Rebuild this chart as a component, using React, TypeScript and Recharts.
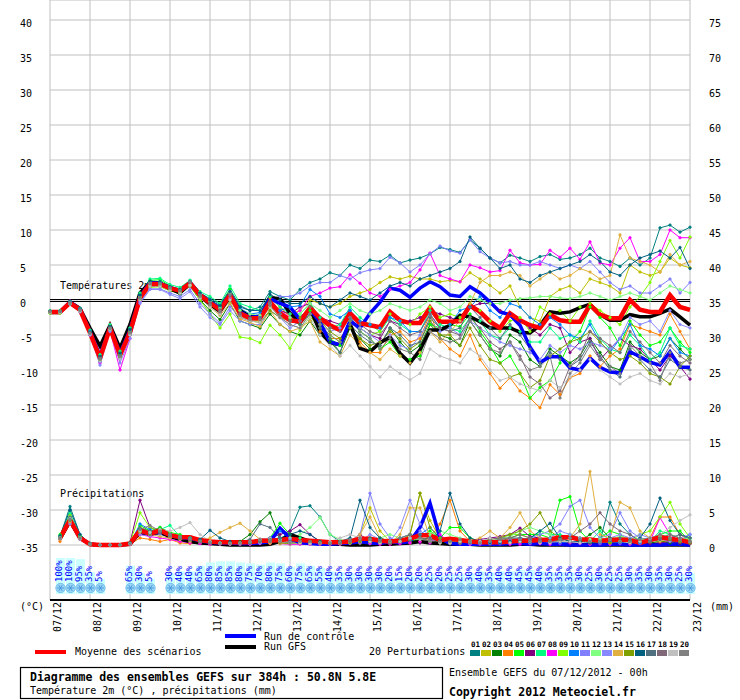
import React from "react";
import { ComposedChart, Line, Bar, XAxis, YAxis, CartesianGrid, ReferenceLine } from "recharts";

const FONT = '"DejaVu Sans Mono", monospace';

// one label per day, every 4 steps of 6h
const dates = ["07/12", "08/12", "09/12", "10/12", "11/12", "12/12", "13/12", "14/12", "15/12", "16/12", "17/12", "18/12", "19/12", "20/12", "21/12", "22/12", "23/12"];
const dayTicks = [0, 4, 8, 12, 16, 20, 24, 28, 32, 36, 40, 44, 48, 52, 56, 60, 64];
const tempTicks = [-35, -30, -25, -20, -15, -10, -5, 0, 5, 10, 15, 20, 25, 30, 35, 40];
const precipTicks = [0, 5, 10, 15, 20, 25, 30, 35, 40, 45, 50, 55, 60, 65, 70, 75];

const memberColors = ["#008080", "#c0c000", "#008000", "#ff8000", "#00ff00", "#800080", "#00ff80", "#ff00ff", "#80ff00", "#0080ff", "#8080ff", "#80ff80", "#8888ff", "#e0b040", "#80a000", "#006080", "#507080", "#806878", "#c0c0c0", "#808080"];

// temperature 2m (°C), 65 steps of 6h
const tempMean = [-1.7, -1.7, -0.4, -1.4, -4.7, -8.3, -4.0, -7.9, -4.6, 0.3, 2.3, 2.3, 1.7, 1.3, 2.4, 0.7, -0.4, -1.4, 0.7, -1.9, -2.6, -2.6, -0.3, -1.9, -2.9, -3.1, -1.1, -2.6, -3.6, -4.3, -1.9, -3.3, -3.6, -3.9, -1.7, -2.9, -3.3, -3.3, -1.1, -3.1, -3.1, -3.0, -0.8, -1.7, -3.1, -4.0, -1.9, -2.9, -3.6, -4.0, -2.1, -2.9, -3.1, -3.1, -0.7, -2.1, -2.6, -2.6, 0.0, -1.4, -1.7, -1.7, 0.7, -1.0, -1.4];
const tempControl = [-1.7, -1.7, -0.3, -1.3, -4.5, -8.0, -3.9, -7.6, -4.3, 0.5, 2.5, 2.4, 1.8, 1.3, 2.5, 0.8, -0.3, -1.2, 0.9, -1.7, -2.5, -2.3, 0.2, -0.5, -1.0, -2.8, -1.3, -3.2, -6.0, -6.4, -3.0, -4.0, -1.9, -0.3, 1.7, 1.4, 0.4, 1.7, 2.6, 1.9, 0.7, 0.5, 1.9, 1.0, -0.3, -1.7, -2.1, -3.6, -6.7, -8.9, -8.1, -8.1, -9.7, -10.0, -8.3, -9.6, -10.3, -10.4, -7.4, -8.1, -8.9, -9.3, -7.4, -9.6, -9.6];
const tempGfs = [-1.8, -1.8, -0.3, -1.2, -4.0, -6.6, -3.6, -6.9, -3.5, 1.0, 2.5, 2.4, 1.6, 1.0, 2.4, 0.6, -0.6, -1.6, 0.5, -1.5, -2.4, -2.4, 0.3, 0.2, -1.9, -3.2, -1.2, -4.5, -6.1, -6.4, -3.4, -6.9, -7.4, -6.1, -5.3, -7.6, -9.0, -7.1, -4.3, -4.3, -3.6, -2.2, -2.4, -3.1, -4.0, -4.0, -4.0, -4.6, -4.7, -3.6, -1.7, -1.9, -1.7, -1.1, -0.6, -2.1, -2.9, -2.9, -2.1, -2.4, -2.4, -1.9, -1.3, -2.4, -3.6];

const tempMembers = [
  // 01
  [-1.6, -1.6, -0.2, -1.2, -4.5, -8.0, -3.8, -7.5, -4.0, 0.8, 2.6, 2.5, 1.9, 1.6, 2.8, 1.0, 0.2, -0.6, 1.5, -0.8, -1.5, -1.0, 1.2, 0.5, 0.0, 1.5, 2.5, 3.0, 3.9, 3.5, 5.0, 4.5, 5.7, 5.5, 6.4, 5.3, 5.7, 6.0, 6.6, 7.5, 7.2, 6.8, 8.6, 7.4, 6.0, 5.3, 6.4, 6.0, 5.5, 6.2, 6.5, 5.8, 6.0, 6.5, 7.4, 6.0, 5.5, 4.8, 6.0, 5.0, 6.0, 10.3, 10.7, 9.7, 10.4],
  // 02
  [-1.8, -1.8, -0.5, -1.5, -4.8, -8.5, -4.2, -8.0, -4.5, 0.2, 2.2, 2.3, 1.8, 1.2, 2.2, 0.4, -0.8, -1.8, 0.3, -2.3, -2.8, -3.0, -1.0, -1.5, -2.0, -1.5, 0.0, -0.5, -1.0, -0.5, 0.5, 1.0, 1.5, 2.5, 3.3, 3.0, 3.4, 3.0, 3.0, 2.6, 2.8, 2.6, 3.9, 3.0, 2.1, 1.0, 2.0, -1.0, -2.5, -3.0, 0.5, 1.5, 2.0, 1.0, 3.0, 2.5, 2.0, 1.0, 5.0, 4.0, 3.5, 4.0, 6.0, 5.0, 4.6],
  // 03
  [-1.7, -1.7, -0.5, -1.6, -5.0, -8.8, -4.3, -8.3, -5.0, 0.0, 2.0, 2.0, 1.5, 0.8, 2.0, 0.0, -1.5, -2.8, -0.5, -3.0, -3.5, -4.0, -2.0, -3.5, -4.5, -5.0, -3.0, -5.0, -6.0, -7.5, -4.0, -5.5, -7.0, -6.5, -4.0, -6.0, -7.5, -6.5, -3.5, -5.0, -5.5, -6.5, -3.0, -5.0, -7.0, -8.0, -5.0, -6.0, -8.5, -9.5, -7.0, -8.0, -9.0, -8.0, -5.5, -7.5, -9.5, -10.0, -6.0, -7.5, -8.5, -8.0, -5.5, -7.0, -8.5],
  // 04
  [-1.6, -1.6, -0.3, -1.3, -4.6, -8.2, -3.9, -7.8, -4.3, 0.5, 2.3, 2.4, 1.7, 1.3, 2.3, 0.6, -0.6, -1.6, 0.4, -2.5, -2.5, -2.4, 0.3, -1.0, -2.5, -3.5, -2.0, -4.5, -5.5, -5.5, -3.5, -6.0, -7.5, -7.5, -5.0, -4.5, -6.0, -5.5, -2.0, -5.5, -7.0, -8.0, -5.0, -8.5, -10.5, -12.6, -11.1, -13.0, -14.0, -15.4, -12.1, -13.5, -11.1, -10.5, -8.0, -9.5, -8.0, -7.0, -3.5, -4.0, -4.5, -5.0, -2.0, -4.5, -7.0],
  // 05
  [-1.8, -1.8, -0.4, -1.4, -4.6, -8.3, -4.0, -7.8, -4.5, 0.3, 2.8, 2.9, 2.0, 1.4, 2.5, 0.8, -0.2, -1.0, 1.5, -1.5, -2.5, -2.8, -0.5, -1.5, -2.8, -3.5, -1.5, -3.5, -5.5, -6.5, -2.5, -4.5, -5.5, -7.0, -6.0, -8.0, -8.5, -8.0, -3.5, -4.0, -3.5, -3.8, -2.0, -4.5, -6.5, -9.0, -8.0, -10.5, -14.0, -12.5, -11.5, -9.0, -6.0, -4.5, -1.0, -2.5, -4.0, -6.5, -3.0, -5.0, -6.5, -6.0, -4.0, -6.0, -7.5],
  // 06
  [-1.7, -1.7, -0.1, -1.3, -4.8, -8.5, -4.1, -8.0, -4.8, 0.1, 2.4, 2.3, 1.6, 1.2, 2.4, 0.7, -0.4, -1.4, 0.9, -1.8, -2.4, -2.5, -0.5, -1.5, -2.0, -1.0, -0.5, -2.5, -3.0, -3.5, -1.5, -4.0, -5.0, -5.5, -3.0, -3.5, -3.0, -2.5, -1.5, -2.0, -2.5, -3.0, -1.0, -0.5, -0.5, -1.5, -2.0, -3.0, -4.0, -5.0, -3.5, -4.0, -7.5, -6.0, -5.5, -8.5, -7.0, -5.5, -6.5, -7.0, -8.5, -10.0, -8.0, -9.5, -11.3],
  // 07
  [-1.5, -1.5, -0.2, -1.2, -4.3, -7.8, -3.5, -7.3, -4.0, 1.0, 3.0, 3.1, 2.2, 1.8, 2.8, 1.2, 0.5, -0.5, 2.0, -0.5, -1.0, -1.5, 0.5, -1.0, -2.0, -2.0, -0.5, -2.5, -4.0, -3.5, -1.0, -2.5, -3.5, -4.5, -2.5, -3.5, -4.5, -4.5, -1.5, -3.5, -4.0, -4.5, -2.5, -3.0, -5.0, -5.5, -4.0, -4.5, -6.0, -6.0, -4.0, -5.5, -5.0, -6.0, -3.0, -5.5, -7.0, -7.5, -5.0, -6.5, -8.5, -7.5, -4.0, -6.5, -7.0],
  // 08
  [-1.7, -1.7, -0.5, -1.5, -5.0, -9.0, -4.3, -10.0, -5.5, -0.2, 2.0, 2.0, 1.5, 1.0, 2.0, 0.3, -0.8, -1.8, 0.2, -2.2, -2.8, -2.8, -0.5, -1.5, -2.5, -1.5, 0.5, 1.0, 1.7, 1.9, 3.6, 2.4, 1.0, 0.5, 1.5, 2.0, 2.5, 4.3, 6.7, 3.5, 3.0, 2.6, 5.0, 4.6, 4.0, 4.2, 7.1, 5.3, 5.0, 5.1, 7.1, 6.1, 7.4, 5.8, 8.3, 5.3, 5.0, 7.4, 8.9, 5.5, 5.5, 6.5, 10.0, 8.9, 8.9],
  // 09
  [-1.9, -1.9, -0.6, -1.6, -4.9, -8.6, -4.3, -8.2, -4.8, 0.0, 1.8, 1.9, 1.3, 1.0, 2.0, 0.0, -2.0, -4.0, -2.0, -5.3, -5.5, -6.1, -3.6, -5.0, -6.9, -4.3, -2.4, -4.0, -5.0, -6.0, -3.0, -4.0, -5.0, -4.5, -2.0, -3.0, -3.5, -2.0, -1.0, -2.5, -2.0, -2.5, -0.5, -1.5, -3.0, -4.5, -3.0, -2.5, -4.5, -1.0, -2.0, -1.5, -3.0, -1.0, -0.5, -1.5, -2.5, -3.5, -1.0, 0.5, 2.5, 5.5, 8.5, 6.0, 9.0],
  // 10
  [-1.6, -1.6, -0.3, -1.3, -4.5, -8.1, -3.9, -7.7, -4.3, 0.6, 2.5, 2.6, 1.9, 1.5, 2.6, 0.9, 0.0, -1.0, 1.2, -1.2, -2.0, -1.8, -0.5, -1.5, -1.0, -0.8, 1.5, 0.5, -2.0, -2.5, -1.5, -3.0, -3.5, -4.0, -2.5, -3.0, -4.5, -4.5, -2.0, -4.0, -3.5, -1.5, -1.0, 0.5, -1.5, -2.5, -0.5, -1.0, -2.5, -3.5, -2.5, -3.5, -5.0, -5.5, -3.5, -6.0, -7.5, -5.5, -3.5, -6.5, -7.0, -8.0, -5.5, -7.5, -8.0],
  // 11
  [-1.8, -1.8, -0.4, -1.6, -4.9, -8.8, -4.2, -8.4, -5.0, -0.3, 1.6, 1.6, 1.0, 0.5, 1.5, -0.5, -2.0, -3.3, -1.0, -2.5, -3.0, -2.5, -0.5, 0.5, 0.5, 1.0, 2.0, 2.5, 2.5, 3.5, 3.0, 3.9, 4.3, 4.5, 6.1, 5.3, 4.0, 5.0, 6.6, 7.7, 7.0, 6.7, 8.6, 6.9, 6.0, 5.3, 5.5, 5.0, 5.0, 5.5, 5.0, 4.5, 5.0, 4.5, 5.5, 4.0, 2.5, 1.5, 2.0, 1.0, 1.0, 2.0, 3.0, 1.0, 2.5],
  // 12
  [-1.7, -1.7, -0.4, -1.4, -4.7, -8.3, -4.0, -7.9, -4.6, 0.4, 2.5, 2.4, 1.8, 1.5, 2.6, 0.8, -0.2, -1.2, 1.0, -1.5, -2.0, -2.2, -0.5, -2.0, -2.5, -2.0, -0.5, -1.5, -2.5, -1.5, -0.5, -1.5, -2.0, -1.5, -0.5, -1.0, -1.5, -1.0, 0.0, -0.5, -1.5, -1.0, 0.5, 0.0, -0.5, -0.5, 0.0, 0.2, 0.3, 0.5, 0.5, 0.3, 0.2, 0.5, 1.0, 0.5, 0.0, 0.5, 1.0, 0.5, 0.0, 1.0, 2.0, 1.5, 1.0],
  // 13
  [-1.7, -1.7, -0.6, -1.7, -5.0, -9.3, -4.5, -9.0, -5.5, -0.5, 1.5, 1.5, 0.8, 0.2, 1.2, -1.0, -2.5, -3.5, -1.5, -3.0, -3.5, -3.5, -1.5, -2.5, -4.0, -3.0, -2.0, -3.5, -4.5, -4.0, -2.5, -4.0, -5.0, -6.0, -5.0, -6.5, -7.0, -5.0, -3.0, -4.5, -4.0, -5.0, -3.0, -4.0, -5.0, -6.0, -6.5, -7.0, -7.5, -8.5, -6.5, -7.5, -6.5, -7.0, -6.0, -6.5, -7.0, -5.5, -2.5, -3.5, -3.0, -4.5, -1.5, -3.5, -4.0],
  // 14
  [-1.6, -1.6, -0.4, -1.5, -4.8, -8.4, -4.1, -8.1, -4.7, 0.2, 2.2, 2.2, 1.6, 1.1, 2.2, 0.3, -1.0, -2.2, -0.5, -2.7, -3.2, -3.8, -1.5, -3.5, -4.5, -4.0, -3.0, -6.0, -7.0, -8.0, -5.0, -6.5, -7.5, -8.5, -7.0, -8.0, -9.0, -7.5, -4.5, -6.0, -4.5, -3.0, -0.5, 2.5, 3.5, 3.5, 4.0, 3.5, 2.0, 3.0, 4.0, 3.0, 3.5, 4.5, 4.0, 3.0, 3.5, 9.3, 6.0, 5.5, 5.0, 4.0, 6.5, 5.0, 5.5],
  // 15
  [-1.8, -1.8, -0.5, -1.5, -4.7, -8.3, -4.0, -7.9, -4.6, 0.2, 2.1, 2.1, 1.5, 1.1, 2.1, 0.4, -0.8, -2.0, 0.0, -2.4, -3.0, -3.2, -1.5, -2.5, -3.0, -2.5, -1.0, -3.0, -4.5, -5.5, -4.0, -5.5, -6.5, -6.0, -4.5, -5.5, -7.0, -6.0, -3.0, -5.0, -5.0, -6.5, -4.0, -6.5, -8.5, -9.0, -11.0, -10.5, -12.5, -11.5, -8.0, -7.0, -6.0, -5.5, -4.5, -6.0, -7.5, -8.5, -8.0, -9.0, -10.5, -11.0, -12.0, -9.5, -8.0],
  // 16
  [-1.6, -1.6, -0.3, -1.3, -4.6, -8.1, -3.8, -7.6, -4.2, 0.7, 2.7, 2.6, 1.9, 1.5, 2.6, 1.0, 0.0, -0.8, 1.2, -1.0, -1.5, -1.5, 0.8, 0.0, -0.5, -0.5, 0.5, -0.5, -1.0, 0.0, 1.0, 0.5, 0.0, 1.0, 2.0, 2.5, 2.0, 3.0, 3.5, 4.0, 4.5, 5.5, 9.0, 7.4, 6.0, 4.5, 5.0, 3.0, 2.5, 3.5, 4.0, 4.5, 5.0, 5.5, 6.5, 5.5, 4.0, 3.5, 5.0, 6.0, 6.5, 7.0, 6.0, 7.5, 4.5],
  // 17
  [-1.7, -1.7, -0.4, -1.4, -4.7, -8.4, -4.0, -8.0, -4.7, 0.2, 2.3, 2.4, 1.8, 1.4, 2.6, 0.6, -0.6, -1.5, 0.6, -2.0, -2.8, -2.5, -0.2, -2.0, -3.0, -3.5, -2.0, -4.0, -5.5, -7.5, -3.5, -5.0, -6.0, -6.5, -4.0, -5.0, -6.5, -6.0, -2.5, -4.0, -4.5, -4.0, -1.0, -2.5, -4.0, -5.5, -3.5, -5.0, -7.0, -9.0, -7.5, -8.5, -9.5, -8.5, -6.0, -8.0, -10.0, -11.0, -7.0, -8.5, -10.0, -11.0, -8.5, -9.5, -10.0],
  // 18
  [-1.7, -1.7, -0.4, -1.4, -4.7, -8.3, -4.0, -8.0, -4.6, 0.3, 2.4, 2.3, 1.7, 1.3, 2.5, 0.7, -0.4, -1.4, 0.7, -1.9, -2.6, -2.7, -0.5, -2.0, -3.0, -3.0, -1.0, -3.0, -4.0, -4.5, -2.5, -3.5, -4.5, -5.0, -3.0, -4.0, -5.0, -4.5, -2.0, -4.0, -4.5, -5.0, -2.5, -4.0, -6.0, -7.0, -6.0, -8.0, -11.0, -12.0, -14.0, -13.0, -9.5, -8.0, -4.5, -5.5, -6.5, -7.5, -4.5, -6.0, -7.5, -9.0, -6.5, -8.0, -9.0],
  // 19
  [-1.8, -1.8, -0.5, -1.6, -4.9, -8.7, -4.2, -8.4, -5.0, 0.0, 2.0, 2.0, 1.4, 1.0, 2.1, 0.3, -1.0, -2.0, 0.0, -2.4, -3.0, -3.2, -1.0, -2.5, -3.5, -4.0, -2.5, -5.0, -6.5, -8.0, -6.5, -8.0, -9.5, -11.0, -9.5, -10.5, -11.4, -10.5, -7.0, -8.0, -8.5, -9.0, -7.0, -8.0, -10.0, -11.5, -11.0, -12.0, -12.5, -13.0, -11.5, -12.5, -11.0, -10.0, -8.5, -10.0, -11.0, -12.0, -11.0, -10.5, -11.5, -12.0, -10.5, -11.0, -10.5],
  // 20
  [-1.7, -1.7, -0.5, -1.5, -4.8, -8.5, -4.1, -8.1, -4.7, 0.2, 2.3, 2.3, 1.7, 1.3, 2.6, 0.5, -0.7, -1.7, 0.8, -2.2, -2.8, -2.8, -0.8, -2.5, -3.5, -4.0, -2.0, -3.5, -5.0, -6.0, -3.0, -4.5, -5.5, -7.0, -5.5, -7.0, -7.5, -8.5, -4.5, -5.5, -6.0, -5.5, -3.0, -5.0, -7.0, -7.5, -6.0, -8.5, -10.0, -9.5, -8.0, -14.0, -10.5, -9.0, -6.5, -8.5, -9.5, -10.5, -6.5, -8.0, -9.0, -11.5, -7.5, -9.0, -8.5],
];

// precipitation (mm per 6h), first step has no value
const precipMean = [null, 1.0, 3.6, 1.0, 0.1, 0, 0, 0, 0.2, 2.1, 1.6, 2.1, 1.4, 1.1, 1.1, 0.7, 0.5, 0.4, 0.4, 0.4, 0.4, 0.6, 0.6, 0.7, 0.9, 0.7, 0.6, 0.5, 0.4, 0.4, 0.5, 0.9, 0.9, 0.6, 0.5, 0.6, 0.9, 1.4, 1.4, 0.7, 0.9, 0.7, 0.5, 0.4, 0.4, 0.4, 0.5, 0.6, 0.6, 0.7, 0.8, 1.1, 1.1, 0.8, 0.8, 0.6, 0.7, 0.8, 0.7, 0.3, 0.7, 1.1, 0.9, 0.7, 0.4];
const precipControl = [null, 1.0, 3.5, 1.0, 0.1, 0, 0, 0, 0.2, 2.0, 1.5, 2.0, 1.4, 1.0, 1.0, 0.6, 0.4, 0.3, 0.3, 0.2, 0.2, 0.3, 0.5, 2.4, 1.0, 0.3, 0.2, 0.1, 0.1, 0.2, 0.3, 0.5, 0.3, 0.2, 0.5, 0.3, 0.5, 2.5, 6.0, 1.0, 0.2, 0.1, 0.1, 0.1, 0.1, 0.1, 0.2, 0.2, 0.1, 0.2, 0.1, 0.1, 0, 0, 0, 0, 0.1, 0.1, 0, 0, 0, 0, 0.1, 0.1, 0];
const precipGfs = [null, 0.9, 3.4, 1.0, 0.1, 0, 0, 0, 0.1, 1.8, 1.6, 1.8, 1.2, 0.8, 0.5, 0.3, 0.2, 0.1, 0, 0, 0, 0, 0.1, 0.5, 1.5, 1.0, 0.5, 0.2, 0.1, 0.1, 0, 0, 0, 0.1, 0.1, 0.2, 0.3, 0.5, 0.3, 0.2, 0.1, 0.1, 0.1, 0, 0, 0, 0, 0.1, 0.1, 0, 0, 0, 0, 0, 0, 0, 0, 0, 0, 0, 0, 0, 0, 0, 0];

const precipMembers = [
  [null, 1.2, 5.5, 1.5, 0.2, 0, 0, 0, 0.3, 2.0, 1.5, 2.5, 1.5, 1.0, 1.0, 0.8, 0.5, 0.3, 0.2, 0.1, 0.2, 0.3, 0.5, 0.8, 2.0, 5.4, 5.6, 4.0, 1.5, 0.5, 0.3, 0.5, 1.0, 0.8, 0.5, 0.3, 0.5, 0.8, 1.0, 0.5, 0.3, 0.2, 0.5, 0.3, 0.2, 0.2, 0.3, 0.5, 0.5, 1.0, 0.5, 0.5, 1.5, 1.0, 0.5, 0.5, 6.1, 3.0, 1.5, 0.5, 0.5, 1.0, 0.5, 0.5, 0.3],
  [null, 0.8, 4.0, 1.0, 0.1, 0, 0, 0, 0.2, 2.5, 2.0, 2.0, 1.2, 1.0, 0.8, 0.5, 0.3, 0.2, 0.2, 0.2, 0.3, 0.5, 0.8, 0.5, 0.3, 0.5, 0.3, 0.2, 0.2, 0.3, 0.5, 1.5, 5.3, 2.0, 0.5, 0.5, 1.5, 7.4, 3.5, 1.0, 0.5, 0.3, 0.2, 0.2, 0.3, 0.3, 0.5, 0.8, 1.0, 0.5, 0.3, 0.5, 0.5, 0.3, 0.2, 0.2, 0.3, 0.5, 0.5, 0.3, 0.3, 0.5, 0.5, 0.3, 0.2],
  [null, 1.0, 3.5, 1.0, 0.1, 0, 0, 0, 0.2, 1.8, 1.5, 1.8, 1.2, 0.8, 0.6, 0.4, 0.3, 0.2, 0.3, 0.5, 1.5, 3.3, 4.6, 1.0, 0.5, 0.3, 0.2, 0.2, 0.3, 0.5, 0.3, 0.2, 0.5, 0.3, 0.2, 0.3, 0.5, 0.8, 1.0, 0.5, 0.3, 0.5, 0.3, 0.2, 0.2, 0.3, 0.5, 0.5, 0.3, 0.5, 1.0, 0.5, 0.3, 0.5, 1.5, 2.5, 1.0, 0.5, 0.3, 0.2, 0.3, 0.5, 0.3, 0.3, 0.2],
  [null, 0.5, 3.0, 0.8, 0.1, 0, 0, 0, 0.1, 1.0, 0.8, 0.5, 0.8, 0.3, 0.2, 0.3, 0.2, 0.2, 0.1, 0.1, 0.2, 0.3, 0.2, 0.3, 0.5, 0.3, 0.2, 0.2, 0.1, 0.2, 0.3, 0.5, 0.3, 0.2, 0.3, 0.5, 0.3, 0.5, 1.0, 3.0, 6.4, 2.0, 0.5, 0.3, 0.2, 0.3, 0.5, 0.3, 0.2, 0.3, 0.5, 1.0, 0.5, 0.3, 0.5, 0.3, 0.5, 0.5, 0.3, 0.5, 1.0, 4.0, 4.0, 1.5, 0.5],
  [null, 1.5, 4.0, 1.2, 0.2, 0, 0, 0, 0.3, 2.8, 2.0, 2.5, 1.8, 1.5, 1.0, 0.5, 0.3, 0.2, 0.3, 0.3, 0.2, 0.5, 1.0, 3.1, 1.5, 0.5, 0.3, 0.2, 0.2, 0.3, 0.5, 0.3, 0.5, 1.0, 0.5, 0.3, 0.5, 1.0, 2.0, 1.0, 2.5, 2.5, 1.0, 0.5, 0.3, 0.5, 1.0, 1.5, 1.5, 1.5, 1.0, 6.4, 6.9, 2.0, 0.5, 1.0, 2.0, 1.5, 0.5, 0.3, 0.5, 1.5, 2.0, 2.0, 0.5],
  [null, 1.0, 3.5, 1.0, 0.1, 0, 0, 0, 0.3, 6.4, 2.5, 2.0, 1.5, 1.0, 0.8, 0.5, 0.3, 0.2, 0.2, 0.3, 0.5, 0.8, 1.0, 1.5, 2.0, 2.9, 1.5, 0.5, 0.3, 0.3, 0.5, 1.5, 0.5, 0.3, 0.2, 0.3, 0.5, 0.3, 0.5, 0.3, 0.2, 0.3, 0.5, 0.8, 1.0, 1.2, 1.5, 2.4, 1.2, 1.0, 0.5, 0.3, 0.5, 0.3, 0.2, 0.3, 0.5, 0.3, 0.5, 0.3, 0.2, 0.3, 0.5, 0.3, 0.2],
  [null, 1.3, 4.5, 1.3, 0.2, 0, 0, 0, 0.2, 2.2, 1.8, 2.2, 2.8, 1.2, 1.0, 0.6, 0.4, 0.3, 0.2, 0.2, 0.3, 0.5, 0.8, 1.0, 0.5, 1.0, 0.5, 0.3, 0.2, 0.3, 0.5, 0.3, 0.2, 0.5, 0.3, 0.5, 0.8, 1.5, 1.0, 0.5, 0.3, 0.5, 0.5, 0.3, 0.3, 0.5, 0.5, 1.0, 0.8, 2.0, 1.5, 1.5, 1.0, 0.5, 0.5, 2.0, 0.5, 0.3, 0.5, 0.3, 0.5, 2.0, 1.5, 1.0, 0.5],
  [null, 0.8, 3.2, 0.9, 0.1, 0, 0, 0, 0.1, 1.5, 1.2, 1.0, 0.8, 0.5, 0.3, 0.2, 0.1, 0.1, 0.1, 0.1, 0.1, 0.2, 0.3, 0.2, 0.1, 0.1, 0.1, 0.1, 0.1, 0.1, 0.2, 0.3, 0.2, 0.1, 0.1, 0.2, 0.3, 0.5, 0.3, 1.5, 0.3, 0.2, 0.1, 0.1, 0.2, 0.2, 0.1, 0.1, 0.2, 0.2, 0.1, 0.2, 0.3, 0.2, 0.1, 0.2, 0.1, 0.2, 0.1, 0.2, 0.5, 3.9, 1.5, 0.5, 0.3],
  [null, 1.2, 4.2, 1.2, 0.1, 0, 0, 0, 0.3, 4.6, 2.5, 2.0, 1.5, 1.2, 0.8, 0.5, 0.3, 0.2, 0.2, 0.3, 0.3, 0.5, 0.8, 0.5, 0.3, 0.5, 0.3, 0.5, 0.3, 0.2, 0.3, 0.5, 0.5, 0.3, 0.3, 0.5, 0.8, 1.0, 0.5, 0.3, 0.2, 0.3, 0.5, 0.3, 0.5, 1.0, 1.5, 1.5, 1.0, 0.5, 0.5, 1.0, 1.5, 1.0, 0.5, 0.5, 0.3, 0.5, 0.5, 1.5, 2.0, 4.0, 6.1, 3.0, 1.0],
  [null, 0.9, 3.8, 1.0, 0.1, 0, 0, 0, 0.2, 3.0, 2.2, 1.8, 1.3, 1.0, 0.8, 0.5, 0.3, 0.2, 0.2, 0.2, 0.3, 0.5, 1.0, 2.0, 1.0, 0.5, 0.3, 0.3, 0.2, 0.3, 0.3, 0.5, 0.8, 0.5, 0.3, 0.5, 0.8, 1.5, 2.5, 1.0, 0.5, 0.3, 0.3, 0.2, 0.3, 0.3, 0.5, 0.5, 0.3, 0.5, 0.5, 0.3, 0.5, 0.3, 0.5, 0.3, 0.5, 0.3, 0.5, 0.3, 0.5, 1.0, 0.8, 0.5, 1.5],
  [null, 1.0, 3.0, 0.8, 0.1, 0, 0, 0, 0.2, 1.5, 1.3, 1.5, 1.2, 1.0, 0.8, 0.5, 0.3, 0.3, 0.2, 0.2, 0.3, 0.3, 0.5, 0.8, 0.5, 0.3, 0.3, 0.2, 0.2, 0.3, 0.5, 1.5, 7.4, 3.0, 1.0, 0.5, 1.0, 2.0, 1.0, 0.5, 0.3, 0.3, 0.5, 0.3, 0.2, 0.3, 0.5, 0.8, 1.0, 1.5, 2.0, 3.0, 5.5, 6.4, 2.5, 1.0, 1.5, 4.6, 2.0, 1.0, 0.8, 1.5, 1.0, 0.5, 0.5],
  [null, 1.1, 3.6, 1.0, 0.2, 0, 0, 0, 0.2, 2.0, 1.8, 1.8, 1.5, 1.2, 1.0, 0.6, 0.5, 0.3, 0.3, 0.3, 0.3, 0.5, 0.5, 0.8, 1.0, 1.5, 2.5, 3.9, 1.5, 0.8, 0.5, 0.5, 0.8, 1.0, 1.5, 1.0, 0.8, 1.0, 1.5, 2.0, 1.5, 1.0, 0.5, 0.5, 0.8, 1.0, 1.2, 2.0, 2.5, 2.0, 1.5, 1.0, 1.5, 1.0, 0.8, 0.8, 1.0, 1.2, 1.0, 0.8, 1.0, 1.2, 1.5, 1.0, 0.8],
  [null, 1.0, 3.4, 1.0, 0.1, 0, 0, 0, 0.2, 2.2, 1.5, 1.8, 1.2, 1.0, 0.8, 0.5, 0.3, 0.2, 0.2, 0.2, 0.2, 0.3, 0.5, 1.0, 0.8, 0.5, 0.3, 0.3, 0.2, 0.2, 0.3, 0.5, 1.5, 0.8, 0.5, 2.5, 6.4, 3.0, 1.0, 0.5, 0.5, 0.3, 0.2, 0.3, 0.5, 0.5, 0.8, 1.0, 0.8, 0.5, 1.0, 2.0, 1.5, 1.0, 0.5, 0.5, 1.0, 1.5, 1.0, 1.5, 1.0, 0.8, 0.5, 1.0, 1.5],
  [null, 0.8, 3.3, 0.9, 0.1, 0, 0, 0, 0.2, 1.8, 1.5, 1.2, 1.0, 0.8, 0.5, 0.5, 1.0, 1.8, 2.5, 3.1, 2.0, 0.8, 0.3, 0.2, 0.2, 0.3, 0.2, 0.2, 0.3, 0.2, 0.3, 1.5, 4.0, 1.0, 0.3, 1.5, 5.3, 5.3, 1.0, 0.5, 0.3, 0.5, 0.5, 1.0, 2.0, 1.0, 2.5, 4.6, 2.0, 1.0, 0.5, 0.8, 1.0, 3.0, 10.5, 1.5, 1.0, 6.1, 5.3, 2.0, 1.0, 0.5, 1.0, 0.8, 0.5],
  [null, 1.0, 3.5, 1.0, 0.1, 0, 0, 0, 0.2, 2.0, 1.5, 1.8, 1.3, 1.0, 0.8, 0.5, 0.3, 0.2, 0.2, 0.2, 0.3, 0.5, 0.5, 0.3, 0.2, 0.3, 0.5, 0.3, 0.2, 0.3, 0.3, 0.5, 0.8, 0.5, 0.3, 0.5, 1.5, 7.4, 2.5, 1.0, 0.5, 0.3, 0.5, 0.5, 0.8, 1.0, 1.5, 2.0, 3.0, 4.6, 2.0, 1.0, 0.5, 0.5, 0.3, 0.5, 0.3, 0.5, 0.3, 0.5, 0.5, 1.0, 0.8, 0.5, 0.3],
  [null, 1.3, 5.0, 1.5, 0.2, 0, 0, 0, 0.3, 2.3, 1.8, 1.8, 1.5, 1.2, 1.0, 0.8, 2.1, 1.0, 0.5, 0.3, 0.3, 0.5, 0.8, 1.0, 1.5, 2.0, 1.5, 0.5, 0.3, 0.5, 1.0, 6.4, 2.5, 1.0, 0.5, 1.0, 1.5, 1.0, 0.5, 2.0, 7.4, 3.0, 1.0, 0.5, 0.3, 0.3, 0.5, 0.5, 1.0, 2.0, 3.1, 1.0, 0.5, 0.5, 0.3, 0.5, 1.0, 0.5, 0.3, 1.0, 3.0, 6.7, 3.5, 1.5, 1.0],
  [null, 1.1, 4.0, 1.1, 0.1, 0, 0, 0, 0.2, 2.4, 2.0, 2.0, 1.5, 1.0, 0.8, 0.5, 0.4, 0.3, 0.3, 0.4, 0.8, 3.0, 2.5, 1.0, 0.5, 0.5, 0.3, 0.3, 0.2, 0.3, 0.5, 1.0, 0.8, 0.5, 0.3, 0.5, 1.0, 1.5, 1.0, 0.5, 0.5, 0.3, 0.3, 0.5, 0.5, 0.8, 1.0, 1.0, 0.8, 0.5, 0.5, 0.8, 1.0, 0.8, 0.5, 0.5, 0.8, 1.0, 0.8, 0.5, 0.5, 0.8, 1.0, 1.5, 1.0],
  [null, 0.9, 3.6, 1.0, 0.1, 0, 0, 0, 0.2, 2.0, 1.6, 1.8, 1.3, 1.0, 0.7, 0.5, 0.3, 0.3, 0.2, 0.2, 0.3, 0.5, 0.5, 0.5, 0.3, 0.5, 0.3, 0.2, 0.3, 0.3, 0.5, 0.8, 0.5, 0.3, 0.3, 0.5, 0.8, 1.0, 0.8, 0.5, 0.3, 0.3, 0.5, 0.5, 0.8, 1.0, 1.0, 1.5, 1.0, 0.8, 0.5, 0.5, 1.0, 2.0, 3.0, 4.6, 3.0, 2.0, 1.5, 0.5, 0.5, 1.0, 1.5, 1.0, 0.5],
  [null, 1.0, 3.8, 1.0, 0.1, 0, 0, 0, 0.2, 2.0, 1.8, 2.2, 2.0, 2.5, 3.2, 1.5, 0.5, 0.3, 0.2, 0.3, 0.5, 0.8, 1.0, 0.5, 0.3, 0.3, 0.2, 0.3, 0.5, 1.0, 1.5, 1.0, 0.5, 0.3, 0.5, 0.5, 1.0, 0.8, 0.5, 0.3, 0.3, 0.5, 0.5, 0.5, 1.0, 0.5, 0.3, 0.5, 0.5, 0.3, 0.3, 0.5, 0.5, 0.3, 0.5, 0.5, 0.8, 0.5, 0.3, 0.5, 1.0, 1.5, 2.5, 3.5, 4.3],
  [null, 1.0, 3.7, 1.0, 0.1, 0, 0, 0, 0.2, 2.2, 2.8, 2.0, 1.5, 1.2, 0.9, 0.6, 0.4, 0.3, 0.2, 0.3, 0.5, 0.8, 0.8, 0.5, 0.3, 0.5, 0.5, 0.3, 0.3, 0.5, 0.8, 1.0, 0.8, 0.5, 0.5, 1.0, 1.5, 1.0, 0.5, 0.5, 0.5, 0.8, 0.5, 0.3, 0.5, 0.8, 1.0, 0.8, 0.5, 0.5, 0.5, 0.8, 1.0, 0.8, 0.5, 0.5, 0.8, 0.5, 0.5, 0.8, 1.0, 1.5, 1.0, 0.8, 0.5],
];

// probability of snow (%) for each 6h step
const snowPct = [null, 100, 100, 95, 35, 5, 0, 0, 65, 30, 5, 0, 30, 40, 40, 65, 80, 85, 85, 80, 75, 70, 80, 75, 60, 75, 65, 55, 40, 35, 30, 30, 30, 30, 20, 15, 20, 20, 25, 20, 25, 25, 30, 40, 35, 40, 40, 45, 45, 40, 35, 35, 35, 30, 25, 30, 25, 25, 30, 35, 30, 35, 30, 25, 30];

const rows = tempMean.map((_, i) => {
  const row: Record<string, number | null> = {
    i,
    tMean: tempMean[i],
    tCtl: tempControl[i],
    tGfs: tempGfs[i],
    pMean: precipMean[i],
    pCtl: precipControl[i],
    pGfs: precipGfs[i],
    pct: snowPct[i],
  };
  tempMembers.forEach((s, m) => (row[`t${m}`] = s[i]));
  precipMembers.forEach((s, m) => (row[`p${m}`] = s[i]));
  return row;
});

const LeftTick = (props: any) => (
  <text x={20} y={props.y + 7} fontSize={10} fontFamily={FONT} fill="#000">
    {props.payload.value}
  </text>
);

const RightTick = (props: any) => (
  <text x={709} y={props.y + 7} fontSize={10} fontFamily={FONT} fill="#000">
    {props.payload.value}
  </text>
);

const DateTick = (props: any) => {
  const ax = props.x + 11;
  return (
    <text x={ax} y={602} transform={`rotate(-90 ${ax} 602)`} textAnchor="end" fontSize={10} fontFamily={FONT} fill="#000">
      {dates[props.payload.value / 4]}
    </text>
  );
};

// cyan probability bar, snowflake and the percentage written upwards
const SnowShape = (props: any) => {
  const { x, y, width, height, payload } = props;
  if (!payload || !(payload.pct > 0)) return <g />;
  const cx = x + width / 2;
  const base = y + height;
  const cy = base + 8;
  return (
    <g>
      <rect x={x} y={y} width={width} height={height + 14} fill="#ccffff" />
      <circle cx={cx} cy={cy} r={4.7} fill="#9ad6f6" stroke="#66b8e8" strokeWidth={0.8} />
      <path d={`M${cx - 3.5} ${cy}H${cx + 3.5}M${cx - 1.8} ${cy - 3}L${cx + 1.8} ${cy + 3}M${cx + 1.8} ${cy - 3}L${cx - 1.8} ${cy + 3}`} stroke="#3d8fd8" strokeWidth={0.8} />
      <text x={cx + 1} y={base + 2} transform={`rotate(-90 ${cx + 1} ${base + 2})`} fontSize={9} fontFamily={FONT} fill="#0000ff">
        {payload.pct}%
      </text>
    </g>
  );
};

const memberDot = (c: string) => ({ r: 1.3, fill: c, stroke: c, strokeWidth: 0.6 });

export default function App() {
  const txt = { fontFamily: FONT, fontSize: 10, fill: "#000" } as const;
  const bold = { fontFamily: FONT, fontSize: 11.5, fontWeight: 700, fill: "#000" } as const;
  return (
    <div style={{ position: "relative", width: 740, height: 700, background: "#fff" }}>
      <style>{"body{margin:0}"}</style>
      <svg width={740} height={700} style={{ position: "absolute", left: 0, top: 0 }}>
        <text x={60} y={289} {...txt}>Températures 2m</text>
        <text x={60} y={497} {...txt}>Précipitations</text>
        <text x={20} y={610} {...txt}>(°C)</text>
        <text x={710} y={610} {...txt}>(mm)</text>
        <rect x={35} y={650} width={31} height={4} fill="#ff0000" />
        <text x={75} y={655} {...txt}>Moyenne des scénarios</text>
        <rect x={225} y={634} width={31} height={4} fill="#0000ff" />
        <text x={264} y={640} {...txt}>Run de contrôle</text>
        <rect x={225} y={645} width={31} height={4} fill="#000" />
        <text x={264} y={650} {...txt}>Run GFS</text>
        <text x={369} y={655} {...txt}>20 Perturbations</text>
        {memberColors.map((c, m) => (
          <g key={c + m}>
            <text x={471 + 11 * m} y={647} fontFamily={FONT} fontSize={7.5} fontWeight={700} fill="#000">
              {String(m + 1).padStart(2, "0")}
            </text>
            <rect x={470 + 11 * m} y={650} width={10} height={6} fill={c} />
          </g>
        ))}
        <rect x={20.5} y={667.5} width={422} height={31} fill="none" stroke="#000" strokeWidth={1.2} />
        <text x={30} y={681} {...bold}>Diagramme des ensembles GEFS sur 384h : 50.8N 5.8E</text>
        <text x={30} y={694} {...txt}>Température 2m (°C) , précipitations (mm)</text>
        <text x={449} y={676} {...txt}>Ensemble GEFS du 07/12/2012 - 00h</text>
        <text x={449} y={696} {...bold}>Copyright 2012 Meteociel.fr</text>
      </svg>
      <div style={{ position: "absolute", left: 0, top: 0 }}>
        <ComposedChart width={740} height={700} data={rows} margin={{ top: 0, right: 0, bottom: 60, left: 0 }}>
          <CartesianGrid yAxisId="t" stroke="#c0c0c0" strokeWidth={1} />
          <XAxis dataKey="i" type="number" domain={[0, 64]} ticks={dayTicks} interval={0} height={40} tick={<DateTick />} tickLine={false} axisLine={{ stroke: "#000", strokeWidth: 2 }} />
          <YAxis yAxisId="t" orientation="left" width={50} type="number" domain={[-300 / 7, 300 / 7]} ticks={tempTicks} interval={0} tick={<LeftTick />} axisLine={false} tickLine={false} />
          <YAxis yAxisId="p" orientation="right" width={50} type="number" domain={[-55 / 7, 545 / 7]} ticks={precipTicks} interval={0} tick={<RightTick />} axisLine={false} tickLine={false} />
          <YAxis yAxisId="pct" hide type="number" domain={[-1000 / 11, 29000 / 11]} />
          <Bar yAxisId="pct" dataKey="pct" barSize={10} shape={<SnowShape />} isAnimationActive={false} />
          {/* double 0°C line */}
          <ReferenceLine yAxisId="t" y={1 / 14} stroke="#000" strokeWidth={1} />
          <ReferenceLine yAxisId="t" y={-3 / 14} stroke="#000" strokeWidth={1} />
          {tempMembers.map((_, m) => (
            <Line key={`t${m}`} yAxisId="t" dataKey={`t${m}`} stroke={memberColors[m]} strokeWidth={1} dot={memberDot(memberColors[m])} activeDot={false} isAnimationActive={false} />
          ))}
          {precipMembers.map((_, m) => (
            <Line key={`p${m}`} yAxisId="p" dataKey={`p${m}`} stroke={memberColors[m]} strokeWidth={1} dot={memberDot(memberColors[m])} activeDot={false} isAnimationActive={false} />
          ))}
          <Line yAxisId="t" dataKey="tGfs" stroke="#000" strokeWidth={3.5} dot={false} activeDot={false} isAnimationActive={false} />
          <Line yAxisId="p" dataKey="pGfs" stroke="#000" strokeWidth={3.5} dot={false} activeDot={false} isAnimationActive={false} />
          <Line yAxisId="t" dataKey="tCtl" stroke="#0000ff" strokeWidth={3.5} dot={false} activeDot={false} isAnimationActive={false} />
          <Line yAxisId="p" dataKey="pCtl" stroke="#0000ff" strokeWidth={3.5} dot={false} activeDot={false} isAnimationActive={false} />
          <Line yAxisId="t" dataKey="tMean" stroke="#ff0000" strokeWidth={4.5} dot={false} activeDot={false} isAnimationActive={false} />
          <Line yAxisId="p" dataKey="pMean" stroke="#ff0000" strokeWidth={4.5} dot={false} activeDot={false} isAnimationActive={false} />
        </ComposedChart>
      </div>
    </div>
  );
}
